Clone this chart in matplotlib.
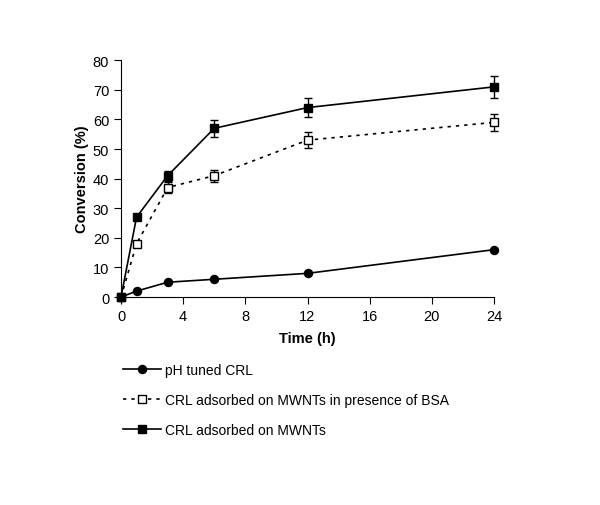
import matplotlib
matplotlib.use("Agg")
import matplotlib.pyplot as plt
from matplotlib.lines import Line2D

plt.rcParams['font.family'] = ['Liberation Sans', 'DejaVu Sans']

# time points (h)
time = [0, 1, 3, 6, 12, 24]

# conversion (%)
ph_tuned = [0, 2, 5, 6, 8, 16]
bsa = [0, 18, 37, 41, 53, 59]
bsa_err = [0, 0, 2, 2, 2.7, 2.9]
mwnt = [0, 27, 41, 57, 64, 71]
mwnt_err = [0, 0, 1.7, 2.9, 3.1, 3.6]

labels = ["pH tuned CRL",
          "CRL adsorbed on MWNTs in presence of BSA",
          "CRL adsorbed on MWNTs"]


def main():
    fig = plt.figure(figsize=(6, 5.06), dpi=100)
    ax = fig.add_axes([0.2017, 0.411, 0.6216, 0.468])

    dotted = (0, (2, 3))
    ax.plot(time, ph_tuned, color="black", lw=1.2, marker="o",
            markersize=5.8, clip_on=False, zorder=3)
    ax.errorbar(time, bsa, yerr=bsa_err, color="black", lw=1.2,
                ls=dotted, marker="s", markersize=6,
                markerfacecolor="white", ecolor="black", elinewidth=1,
                capsize=3, clip_on=False, zorder=3)
    ax.errorbar(time, mwnt, yerr=mwnt_err, color="black", lw=1.2,
                marker="s", markersize=6, ecolor="black",
                elinewidth=1, capsize=3, clip_on=False, zorder=4)

    ax.set_xlim(0, 24)
    ax.set_ylim(0, 80)
    ax.set_xticks(range(0, 25, 4))
    ax.set_yticks(range(0, 81, 10))
    ax.spines["top"].set_visible(False)
    ax.spines["right"].set_visible(False)
    ax.tick_params(direction="out", length=5, labelsize=10.5)
    ax.set_xlabel("Time (h)", fontweight="bold", fontsize=10.5, labelpad=6)
    ax.set_ylabel("Conversion (%)", fontweight="bold", fontsize=10.5,
                  labelpad=3)

    # legend without error bars, as in the original
    handles = [
        Line2D([], [], color="black", lw=1.2, marker="o", markersize=5.8),
        Line2D([], [], color="black", lw=1.2, ls=dotted, marker="s",
               markersize=5.5, markerfacecolor="white"),
        Line2D([], [], color="black", lw=1.2, marker="s", markersize=5.5),
    ]
    fig.legend(handles, labels, loc="upper left",
               bbox_to_anchor=(0.184, 0.305), frameon=False,
               fontsize=10, handlelength=2.75, handletextpad=0.3,
               labelspacing=1.14)

    fig.savefig("out.png", dpi=100)


if __name__ == "__main__":
    main()
